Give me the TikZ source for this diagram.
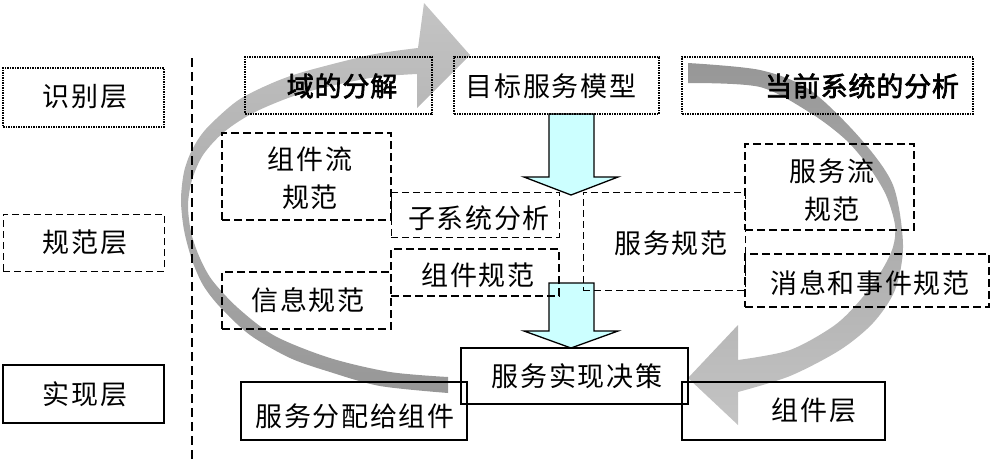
\documentclass[tikz,border=0pt]{standalone}
\usepackage{fontspec}
\newfontfamily\cjk[LetterSpace=6]{Noto Sans CJK SC}
\newfontfamily\cjkb[FakeBold=2.5,LetterSpace=3]{Noto Sans CJK SC}
\usetikzlibrary{fit}
\definecolor{lgray}{HTML}{C4C4C4}
\definecolor{dgray}{HTML}{979797}
\definecolor{cyanfill}{HTML}{CCFFFF}
\begin{document}
\begin{tikzpicture}[x=1pt,y=-1pt,
  txt/.style={font=\cjk\fontsize{27}{38}\selectfont, inner sep=0pt, align=center},
  btxt/.style={font=\cjkb\fontsize{27}{32}\selectfont, inner sep=0pt},
  solidbox/.style={draw, inner sep=0pt, line width=1.6pt},
  dotbox/.style={draw, inner sep=0pt, line width=1.1pt, dash pattern=on 2pt off 1pt on 1pt off 1pt},
  thindash/.style={draw, inner sep=0pt, line width=1pt, dash pattern=on 7pt off 4pt},
  thickdash/.style={draw, inner sep=0pt, line width=1.9pt, dash pattern=on 8pt off 4pt},
  blk/.style={draw, line width=1.3pt, fill=cyanfill, line join=miter}]
\useasboundingbox (0,0) rectangle (993,467);

% gray curved arrows (bottom layer)
\shade[top color=lgray, bottom color=dgray]
  plot[smooth] coordinates {(448,393) (380,386) (330,372) (290,358) (250,335) (220,307) (203,285) (192,260) (184,230) (181,200) (184,172) (192,150) (206,129) (237,101) (270,84) (303,72) (370,55) (418,48)}
  -- (424,3) -- (470,55) -- (417,108) --
  plot[smooth] coordinates {(417,74) (370,78) (303,93) (255,112) (224,132) (203,155) (192,180) (188,205) (191,232) (199,256) (212,280) (238,308) (275,336) (330,358) (390,372) (448,377)}
  -- cycle;
\shade[top color=dgray, bottom color=lgray]
  plot[smooth] coordinates {(688,63) (760,70) (810,90) (860,138) (893,185) (903,245) (895,290) (873,323) (840,350) (790,376) (738,392)}
  -- (738,425) -- (688,378) -- (738,325) --
  plot[smooth] coordinates {(738,360) (790,350) (835,325) (862,298) (882,270) (893,247) (895,225) (886,195) (869,167) (846,140) (812,114) (760,87) (688,83)}
  -- cycle;

% cyan block arrows
\draw[blk] (549,114) -- (549,177) -- (524,177) -- (571,195) -- (618,177) -- (594,177) -- (594,114) -- cycle;
\draw[blk] (549,283) -- (549,331) -- (524,331) -- (571,348) -- (618,331) -- (594,331) -- (594,283) -- cycle;

% vertical separator
\coordinate (vtop) at (192,58);
\coordinate (vbot) at (192,462);
\draw[line width=2pt, dash pattern=on 9pt off 5pt] (vtop) -- (vbot);

% boxes
\node[dotbox, fit={(3,68) (164,127)}] (b1) {};
\node[thindash, fit={(3,214) (164,271)}] (b2) {};
\node[solidbox, fit={(3,365) (164,423)}] (b3) {};
\node[dotbox, fit={(245,57) (432,114)}] (b4) {};
\node[dotbox, fit={(454,57) (659,114)}] (b5) {};
\node[dotbox, fit={(682,57) (973,114)}] (b6) {};
\node[thickdash, fit={(222,133) (391,220)}] (b7) {};
\node[thindash, fit={(391,192) (559,237)}] (b8) {};
\node[thickdash, fit={(391,249) (559,296)}] (b9) {};
\node[thickdash, fit={(222,272) (391,329)}] (b10) {};
\node[thindash, fit={(583,192) (745,290)}] (b11) {};
\node[thickdash, fit={(745,144) (914,230)}] (b12) {};
\node[thickdash, fit={(745,254) (989,307)}] (b13) {};
\node[solidbox, fit={(461,348) (688,404)}] (b14) {};
\node[solidbox, fit={(241,382) (467,440)}] (b15) {};
\node[solidbox, fit={(682,382) (885,440)}] (b16) {};

% texts
\node[txt] (t1) at (85,97) {识别层};
\node[txt] (t2) at (85,242) {规范层};
\node[txt] (t3) at (85,394) {实现层};
\node[btxt] (t4) at (342,86) {域的分解};
\node[txt] (t5) at (551,86) {目标服务模型};
\node[btxt] (t6) at (862,86) {当前系统的分析};
\node[txt] (t7) at (310,178) {组件流\\规范};
\node[txt] (t8) at (479,218) {子系统分析};
\node[txt] (t9) at (478,275) {组件规范};
\node[txt] (t10) at (308,300) {信息规范};
\node[txt] (t11) at (671,243) {服务规范};
\node[txt] (t12) at (832,190) {服务流\\规范};
\node[txt] (t13) at (870,283) {消息和事件规范};
\node[txt] (t14) at (577,376) {服务实现决策};
\node[txt] (t15) at (355,416) {服务分配给组件};
\node[txt] (t16) at (814,410) {组件层};
\end{tikzpicture}
\end{document}
